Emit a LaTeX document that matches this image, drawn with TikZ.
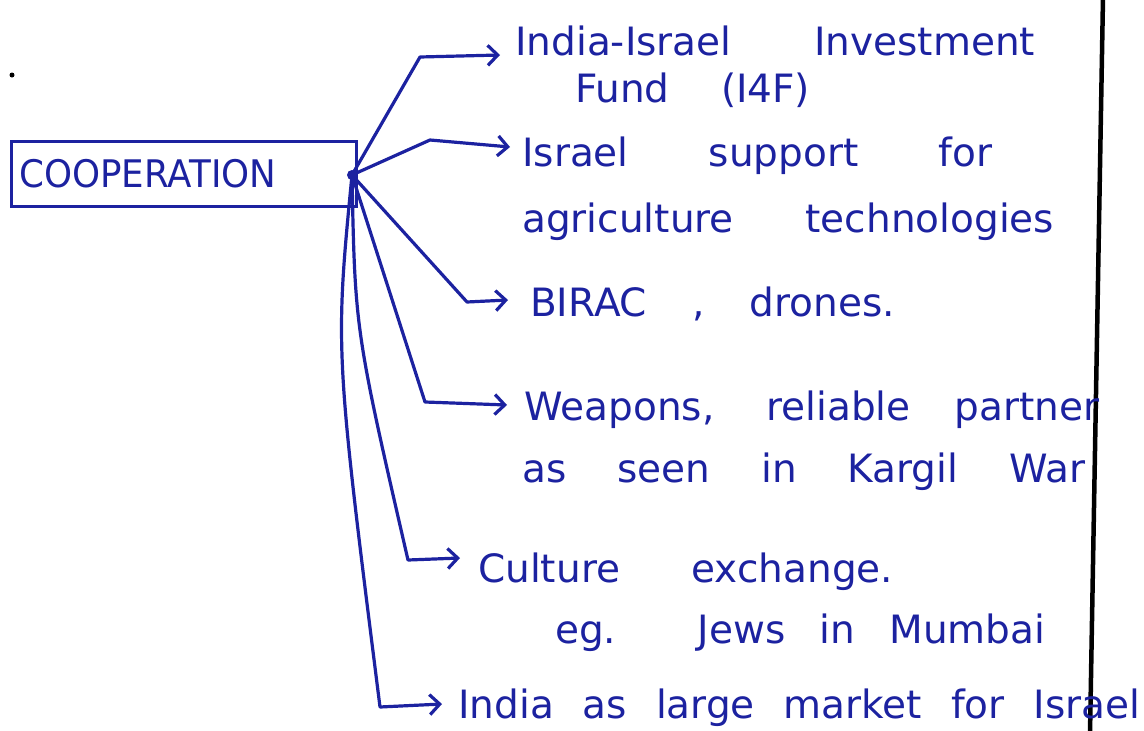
\documentclass[tikz,border=0pt]{standalone}
\usepackage{fontspec}
\setmainfont{DejaVu Sans}
\usepackage{graphicx}
\usetikzlibrary{arrows.meta}
\definecolor{ink}{RGB}{28,34,160}
\newlength\fitnat
\newcommand\fitline[2]{\settowidth\fitnat{#2}\ifdim\fitnat<#1\relax\makebox[#1][s]{#2}\else\scalebox{\fpeval{(#1)/(\the\fitnat)}}[1]{#2}\fi}
\begin{document}
\begin{tikzpicture}[x=1pt,y=-1pt,
  lbl/.style={anchor=base west, inner sep=0pt, text=ink, font=\fontsize{39}{43}\selectfont},
  conn/.style={draw=ink, line width=3.2pt, line join=round, line cap=round, -{Straight Barb[length=10pt,width=20pt,line width=3.2pt]}}]
\useasboundingbox (0,0) rectangle (1144,731);
% box
\node[draw=ink, line width=3pt, anchor=north west, minimum width=345pt, minimum height=65pt,
      text width=329pt, inner xsep=8pt, inner ysep=0pt, align=left, text=ink,
      font=\fontsize{38}{42}\selectfont] (coop) at (10,140) {\fitline{257pt}{COOPERATION}};
\coordinate (hub) at (352,175);
% stray dot
\fill[black] (12,75) circle (2.5pt);
% right margin line
\coordinate (mtop) at (1103,-3);
\coordinate (mbot) at (1090,734);
\draw[black, line width=4.5pt] (mtop) -- (mbot);
% labels
\node[lbl] (t1a) at (515,55) {\fitline{520pt}{India-Israel Investment}};
\node[lbl] (t1b) at (575,102) {\fitline{235pt}{Fund (I4F)}};
\node[lbl] (t2a) at (522,166) {\fitline{470pt}{Israel support for}};
\node[lbl] (t2b) at (522,232) {\fitline{532pt}{agriculture technologies}};
\node[lbl] (t3) at (530,316) {\fitline{365pt}{BIRAC , drones.}};
\node[lbl] (t4a) at (524,420) {\fitline{575pt}{Weapons, reliable partner}};
\node[lbl] (t4b) at (522,482) {\fitline{563pt}{as seen in Kargil War}};
\node[lbl] (t5a) at (478,582) {\fitline{415pt}{Culture exchange.}};
\node[lbl] (t5b) at (555,643) {\fitline{490pt}{eg. Jews in Mumbai}};
\node[lbl] (t6) at (458,718) {\fitline{682pt}{India as large market for Israel}};
% bends and tips
\coordinate (k1) at (420,57);  \coordinate (e1) at (500,55);
\coordinate (k2) at (430,140); \coordinate (e2) at (510,147);
\coordinate (k3) at (467,302); \coordinate (e3) at (508,300);
\coordinate (k4) at (425,402); \coordinate (e4) at (507,405);
\coordinate (k5) at (408,560); \coordinate (e5) at (460,558);
\coordinate (k6) at (380,707); \coordinate (e6) at (442,704);
% connectors
\draw[conn] (hub) -- (k1) -- (e1);
\draw[conn] (hub) -- (k2) -- (e2);
\draw[conn] (hub) -- (k3) -- (e3);
\draw[conn] (hub) -- (k4) -- (e4);
\draw[conn] (hub) .. controls (355,330) .. (k5) -- (e5);
\draw[conn] (hub) .. controls (335,350) .. (k6) -- (e6);
\fill[ink] (hub) circle (5pt);
\end{tikzpicture}
\end{document}
